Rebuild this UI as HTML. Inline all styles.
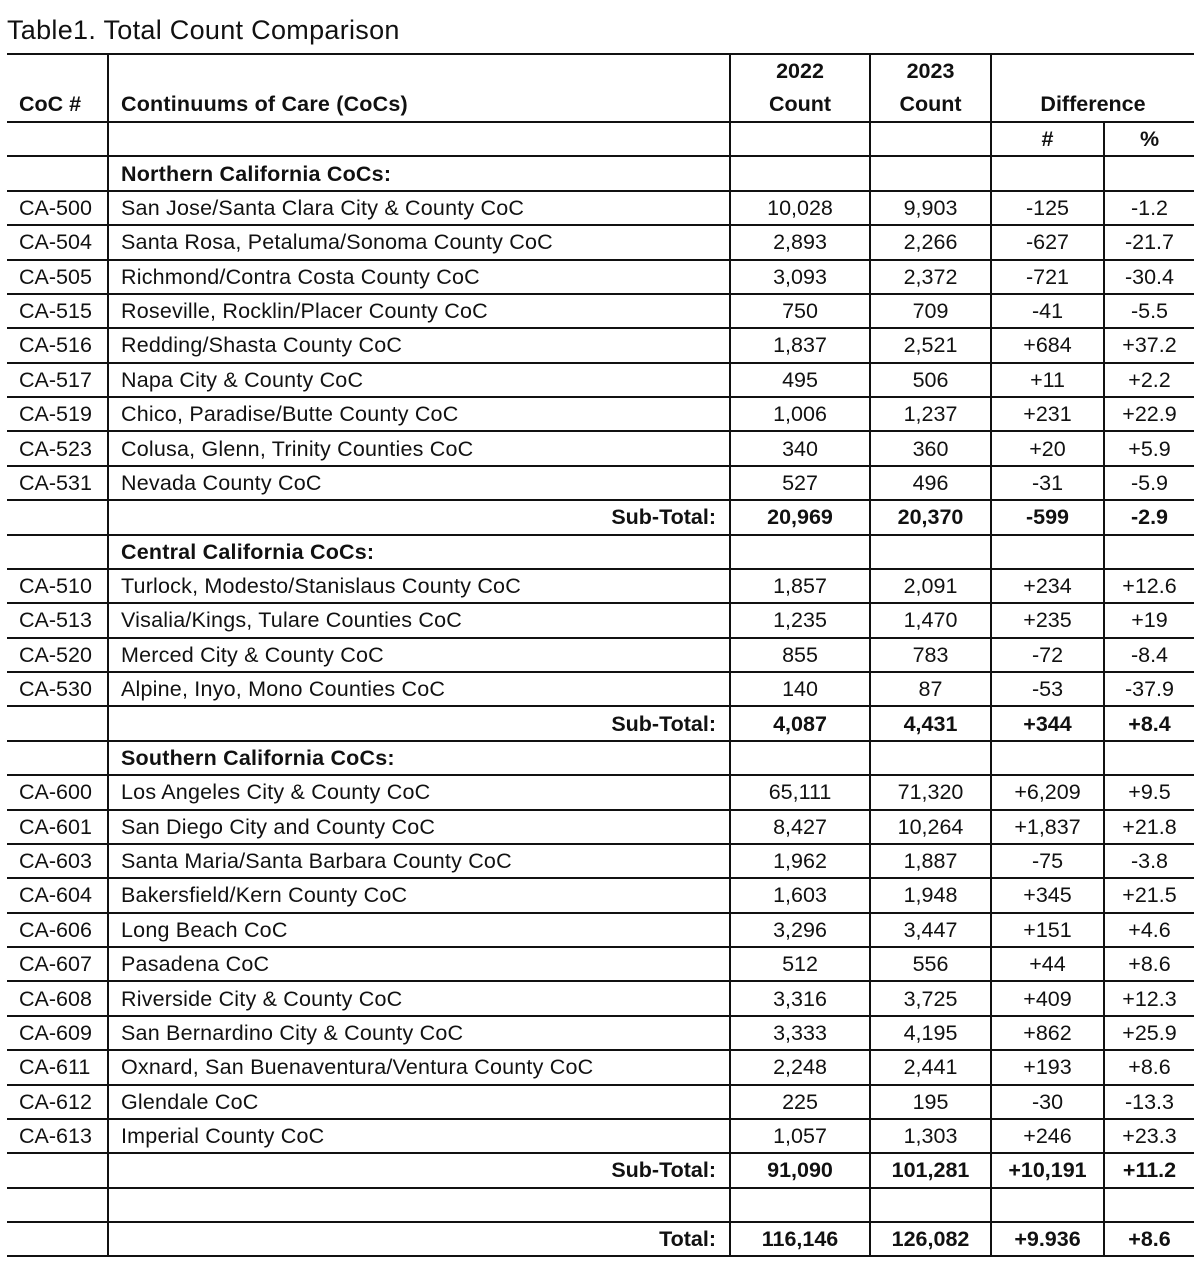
<!DOCTYPE html>
<html><head><meta charset="utf-8"><style>
body{margin:0;background:#fff;width:1200px;height:1265px;overflow:hidden;font-family:"Liberation Sans",Arial,sans-serif;color:#111}
.title{position:absolute;left:7px;top:15px;font-size:27px;letter-spacing:0.3px}
table{position:absolute;left:7px;top:53px;border-collapse:collapse;table-layout:fixed;width:1187px}
tr{height:34.375px}
td{border-top:2px solid #111;border-bottom:2px solid #111;border-left:2px solid #111;padding:0;font-size:21.5px;white-space:nowrap;overflow:hidden;line-height:30px;text-align:center}
td:first-child{border-left:none;text-align:left;padding-left:12px}
td.n{text-align:left;padding-left:12px;letter-spacing:0.2px}
td.r{text-align:right;padding-right:13px;font-weight:bold;letter-spacing:0}
tr.b td{font-weight:bold}
tr.h td{font-weight:bold}
.sec{font-weight:bold}
</style></head><body>
<div class="title">Table1. Total Count Comparison</div>
<table>
<colgroup><col style="width:101px"><col style="width:622px"><col style="width:140px"><col style="width:121px"><col style="width:113px"><col style="width:90px"></colgroup>
<tr class="h" style="height:67px"><td style="vertical-align:bottom;padding-bottom:2px">CoC #</td><td class="n" style="vertical-align:bottom;padding-bottom:2px">Continuums of Care (CoCs)</td><td style="line-height:33px">2022<br>Count</td><td style="line-height:33px">2023<br>Count</td><td colspan="2" style="vertical-align:bottom;padding-bottom:2px">Difference</td></tr>
<tr class="h"><td></td><td></td><td></td><td></td><td>#</td><td>%</td></tr>
<tr><td></td><td class="n sec">Northern California CoCs:</td><td></td><td></td><td></td><td></td></tr>
<tr><td>CA-500</td><td class="n">San Jose/Santa Clara City &amp; County CoC</td><td>10,028</td><td>9,903</td><td>-125</td><td>-1.2</td></tr>
<tr><td>CA-504</td><td class="n">Santa Rosa, Petaluma/Sonoma County CoC</td><td>2,893</td><td>2,266</td><td>-627</td><td>-21.7</td></tr>
<tr><td>CA-505</td><td class="n">Richmond/Contra Costa County CoC</td><td>3,093</td><td>2,372</td><td>-721</td><td>-30.4</td></tr>
<tr><td>CA-515</td><td class="n">Roseville, Rocklin/Placer County CoC</td><td>750</td><td>709</td><td>-41</td><td>-5.5</td></tr>
<tr><td>CA-516</td><td class="n">Redding/Shasta County CoC</td><td>1,837</td><td>2,521</td><td>+684</td><td>+37.2</td></tr>
<tr><td>CA-517</td><td class="n">Napa City &amp; County CoC</td><td>495</td><td>506</td><td>+11</td><td>+2.2</td></tr>
<tr><td>CA-519</td><td class="n">Chico, Paradise/Butte County CoC</td><td>1,006</td><td>1,237</td><td>+231</td><td>+22.9</td></tr>
<tr><td>CA-523</td><td class="n">Colusa, Glenn, Trinity Counties CoC</td><td>340</td><td>360</td><td>+20</td><td>+5.9</td></tr>
<tr><td>CA-531</td><td class="n">Nevada County CoC</td><td>527</td><td>496</td><td>-31</td><td>-5.9</td></tr>
<tr class="b"><td></td><td class="r">Sub-Total:</td><td>20,969</td><td>20,370</td><td>-599</td><td>-2.9</td></tr>
<tr><td></td><td class="n sec">Central California CoCs:</td><td></td><td></td><td></td><td></td></tr>
<tr><td>CA-510</td><td class="n">Turlock, Modesto/Stanislaus County CoC</td><td>1,857</td><td>2,091</td><td>+234</td><td>+12.6</td></tr>
<tr><td>CA-513</td><td class="n">Visalia/Kings, Tulare Counties CoC</td><td>1,235</td><td>1,470</td><td>+235</td><td>+19</td></tr>
<tr><td>CA-520</td><td class="n">Merced City &amp; County CoC</td><td>855</td><td>783</td><td>-72</td><td>-8.4</td></tr>
<tr><td>CA-530</td><td class="n">Alpine, Inyo, Mono Counties CoC</td><td>140</td><td>87</td><td>-53</td><td>-37.9</td></tr>
<tr class="b"><td></td><td class="r">Sub-Total:</td><td>4,087</td><td>4,431</td><td>+344</td><td>+8.4</td></tr>
<tr><td></td><td class="n sec">Southern California CoCs:</td><td></td><td></td><td></td><td></td></tr>
<tr><td>CA-600</td><td class="n">Los Angeles City &amp; County CoC</td><td>65,111</td><td>71,320</td><td>+6,209</td><td>+9.5</td></tr>
<tr><td>CA-601</td><td class="n">San Diego City and County CoC</td><td>8,427</td><td>10,264</td><td>+1,837</td><td>+21.8</td></tr>
<tr><td>CA-603</td><td class="n">Santa Maria/Santa Barbara County CoC</td><td>1,962</td><td>1,887</td><td>-75</td><td>-3.8</td></tr>
<tr><td>CA-604</td><td class="n">Bakersfield/Kern County CoC</td><td>1,603</td><td>1,948</td><td>+345</td><td>+21.5</td></tr>
<tr><td>CA-606</td><td class="n">Long Beach CoC</td><td>3,296</td><td>3,447</td><td>+151</td><td>+4.6</td></tr>
<tr><td>CA-607</td><td class="n">Pasadena CoC</td><td>512</td><td>556</td><td>+44</td><td>+8.6</td></tr>
<tr><td>CA-608</td><td class="n">Riverside City &amp; County CoC</td><td>3,316</td><td>3,725</td><td>+409</td><td>+12.3</td></tr>
<tr><td>CA-609</td><td class="n">San Bernardino City &amp; County CoC</td><td>3,333</td><td>4,195</td><td>+862</td><td>+25.9</td></tr>
<tr><td>CA-611</td><td class="n">Oxnard, San Buenaventura/Ventura County CoC</td><td>2,248</td><td>2,441</td><td>+193</td><td>+8.6</td></tr>
<tr><td>CA-612</td><td class="n">Glendale CoC</td><td>225</td><td>195</td><td>-30</td><td>-13.3</td></tr>
<tr><td>CA-613</td><td class="n">Imperial County CoC</td><td>1,057</td><td>1,303</td><td>+246</td><td>+23.3</td></tr>
<tr class="b"><td></td><td class="r">Sub-Total:</td><td>91,090</td><td>101,281</td><td>+10,191</td><td>+11.2</td></tr>
<tr><td></td><td></td><td></td><td></td><td></td><td></td></tr>
<tr class="b"><td></td><td class="r">Total:</td><td>116,146</td><td>126,082</td><td>+9.936</td><td>+8.6</td></tr>
</table>
</body></html>
